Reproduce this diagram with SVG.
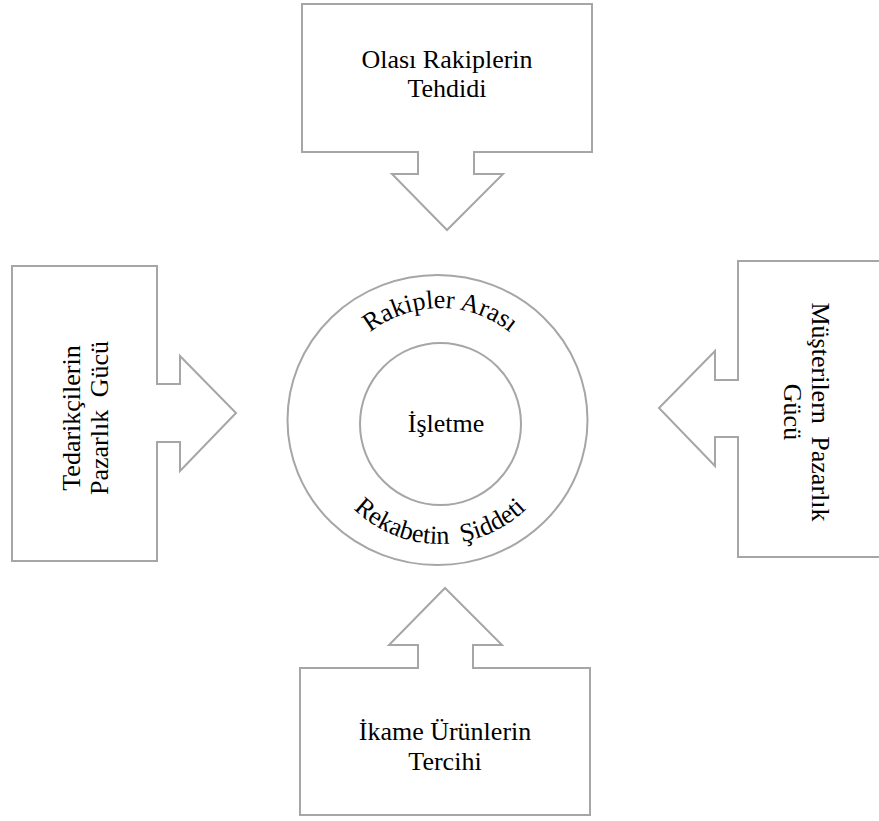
<svg xmlns="http://www.w3.org/2000/svg" xmlns:xlink="http://www.w3.org/1999/xlink" width="879" height="821" viewBox="0 0 879 821">
<style>
.sh{fill:#fff;stroke:#a6a6a6;stroke-width:2;stroke-linejoin:miter}
.t{font-family:"Liberation Serif","Times New Roman",serif;font-size:26px;fill:#000;text-anchor:middle}
</style>
<defs>
<path id="arcTop" d="M328,420 A112,112 0 0 1 552,420"/>
<path id="arcBot" d="M316,420 A124,124 0 0 0 564,420"/>
</defs>
<rect width="879" height="821" fill="#fff"/>
<g id="connectors"></g>
<g id="node-top">
<path class="sh" d="M302,4 H592 V152 H474 V174 H503 L447,230 L392,174 H418 V152 H302 Z"/>
<text class="t" x="447" y="68">Olası Rakiplerin</text>
<text class="t" x="447" y="97">Tehdidi</text>
</g>
<g id="node-left">
<path class="sh" d="M12,266 H157 V384 H180 V356 L236,413 L180,471 V442 H157 V561 H12 Z"/>
<text class="t" transform="translate(80,418) rotate(-90)"><tspan x="0" y="0">Tedarikçilerin</tspan><tspan x="0" y="28" word-spacing="6">Pazarlık Gücü</tspan></text>
</g>
<g id="node-right">
<path class="sh" d="M880,261 H738 V380 H715 V351 L659,408 L715,466 V437 H738 V557 H880"/>
<text class="t" transform="translate(812,412) rotate(90)"><tspan x="0" y="0" word-spacing="6">Müşterilern Pazarlık</tspan><tspan x="0" y="28">Gücü</tspan></text>
</g>
<g id="node-bottom">
<path class="sh" d="M300,668 H418 V645 H389 L445,588 L502,645 H473 V668 H590 V815 H300 Z"/>
<text class="t" x="445" y="740">İkame Ürünlerin</text>
<text class="t" x="445" y="770">Tercihi</text>
</g>
<g id="node-center">
<ellipse class="sh" cx="437.5" cy="420" rx="150" ry="145"/>
<text class="t"><textPath xlink:href="#arcTop" href="#arcTop" startOffset="50%">Rakipler Arası</textPath></text>
<text class="t" word-spacing="6"><textPath xlink:href="#arcBot" href="#arcBot" startOffset="50%">Rekabetin Şiddeti</textPath></text>
<ellipse class="sh" cx="440.5" cy="424" rx="80.5" ry="81"/>
<text class="t" x="446" y="432">İşletme</text>
</g>
</svg>
